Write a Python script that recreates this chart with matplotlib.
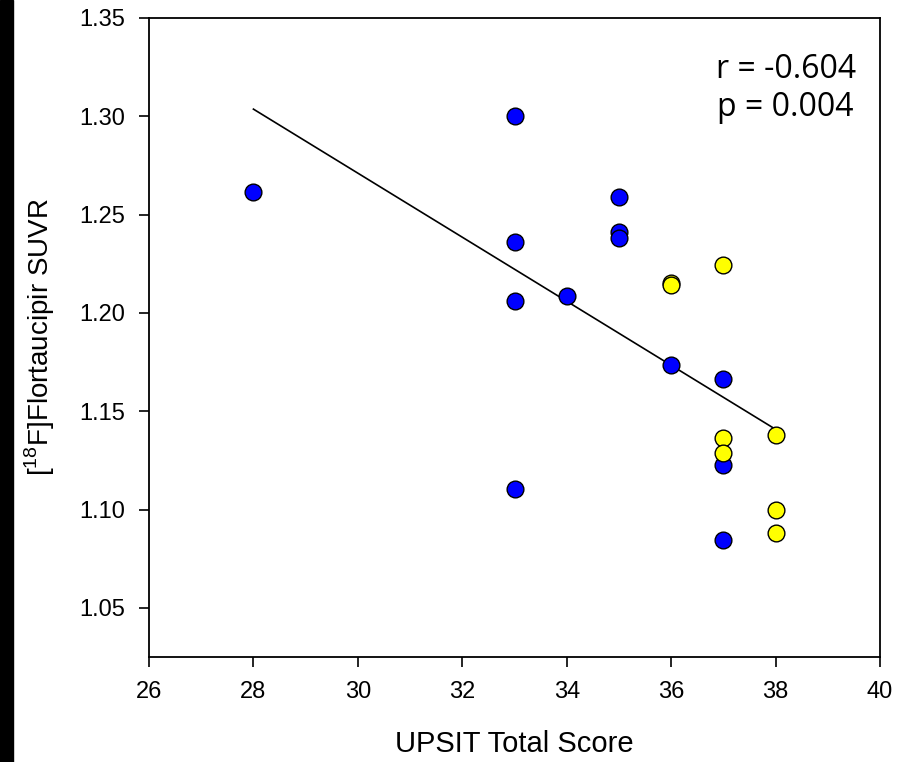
import numpy as np
import matplotlib.pyplot as plt
from matplotlib.patches import Rectangle

# UPSIT score vs [18F]Flortaucipir SUVR, two groups
blue_x = [28, 33, 33, 33, 33, 34, 35, 35, 35, 36, 37, 37, 37]
blue_y = [1.2615, 1.300, 1.236, 1.206, 1.1105, 1.2086, 1.259, 1.241, 1.238,
          1.1736, 1.1664, 1.1227, 1.0846]
yellow_x = [36, 36, 37, 37, 37, 38, 38, 38]
yellow_y = [1.215, 1.214, 1.2244, 1.1365, 1.1288, 1.138, 1.0998, 1.0881]

x_ticks = [26, 28, 30, 32, 34, 36, 38, 40]
y_ticks = [1.05, 1.10, 1.15, 1.20, 1.25, 1.30, 1.35]
stats_text = "r = -0.604\np = 0.004"


def main():
    plt.rcParams["font.family"] = ["Liberation Sans", "DejaVu Sans"]
    plt.rcParams["mathtext.fontset"] = "custom"
    plt.rcParams["mathtext.rm"] = "Liberation Sans"

    fig = plt.figure(figsize=(9.1, 7.62), dpi=100)
    fig.patches.append(Rectangle((0, 0), 13 / 910, 1, transform=fig.transFigure,
                                 color="black", zorder=0))
    ax = fig.add_axes([149 / 910, 1 - 657 / 762, (880 - 149) / 910, (657 - 18) / 762])

    # ---- regression line over the data range ----
    all_x = np.array(blue_x + yellow_x, dtype=float)
    all_y = np.array(blue_y + yellow_y)
    slope, icept = np.polyfit(all_x, all_y, 1)
    xs = np.array([all_x.min(), all_x.max()])
    ax.plot(xs, slope * xs + icept, color="black", linewidth=1.2, zorder=2)

    ax.scatter(blue_x, blue_y, s=145, color="#0000ff", edgecolors="black",
               linewidths=1.0, zorder=3)
    ax.scatter(yellow_x, yellow_y, s=145, color="#ffff00", edgecolors="black",
               linewidths=1.0, zorder=3)

    ax.set_xlim(26, 40)
    ax.set_ylim(1.025, 1.35)
    ax.set_xticks(x_ticks)
    ax.set_yticks(y_ticks)
    ax.set_yticklabels([f"{v:.2f}" for v in y_ticks])
    ax.tick_params(axis="both", direction="out", length=7, width=1.2,
                   labelsize=17, pad=10)

    for sp in ax.spines.values():
        sp.set_linewidth(1.3)

    ax.set_xlabel("UPSIT Total Score", fontsize=21, labelpad=20)
    ax.set_ylabel(r"[$^{18}$F]Flortaucipir SUVR", fontsize=20, labelpad=16)

    ax.text(0.871, 0.945, stats_text, transform=ax.transAxes, ha="center", va="top",
            fontsize=23, family=["Open Sans", "DejaVu Sans"], linespacing=1.2)

    fig.savefig("out.png", dpi=100)


if __name__ == "__main__":
    main()
